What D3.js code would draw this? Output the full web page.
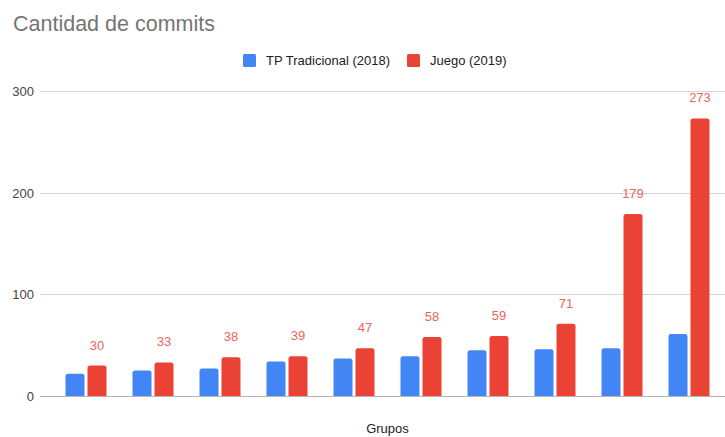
<!DOCTYPE html>
<html>
<head>
<meta charset="utf-8">
<script src="https://cdn.jsdelivr.net/npm/d3@7/dist/d3.min.js"></script>
<style>
  html, body { margin: 0; padding: 0; background: #fff; }
  svg { display: block; font-family: "Liberation Sans", Arial, sans-serif; }
</style>
</head>
<body>
<svg id="chart" width="725" height="437"></svg>
<script>
const title = "Cantidad de commits";
const xTitle = "Grupos";
const categories = ["G1", "G2", "G3", "G4", "G5", "G6", "G7", "G8", "G9", "G10"];
const seriesNames = ["TP Tradicional (2018)", "Juego (2019)"];
const seriesColors = ["#4285F4", "#EA4335"];
const tradicional = [22, 25, 27, 34, 37, 39, 45, 46, 47, 61];
const juego = [30, 33, 38, 39, 47, 58, 59, 71, 179, 273];
const yTicks = [0, 100, 200, 300];

const svg = d3.select("#chart");
const W = 725, H = 437;

const y = d3.scaleLinear().domain([0, 300]).range([396, 91]);
const x0 = d3.scaleBand().domain(categories).range([52.5, 722.5]).padding(0);
const groupW = 41;
const x1 = d3.scaleBand().domain(seriesNames).range([0, groupW]).paddingInner(3 / 22).paddingOuter(0);

// Title
svg.append("text").attr("x", 13).attr("y", 31)
  .attr("font-size", "21.5px").attr("fill", "#757575").text(title);

// Legend
const legend = [
  { name: seriesNames[0], color: seriesColors[0], x: 243, tx: 266 },
  { name: seriesNames[1], color: seriesColors[1], x: 407, tx: 430 }
];
legend.forEach(l => {
  svg.append("rect").attr("x", l.x).attr("y", 54).attr("width", 13).attr("height", 13)
    .attr("rx", 1.5).attr("fill", l.color);
  svg.append("text").attr("x", l.tx).attr("y", 65).attr("font-size", "13px")
    .attr("fill", "#222").text(l.name);
});

// Gridlines + y labels
const yAxis = d3.axisLeft(y).tickValues(yTicks).tickSize(0).tickPadding(0);
const gy = svg.append("g");
yTicks.forEach(t => {
  gy.append("line").attr("x1", 40).attr("x2", W)
    .attr("y1", Math.round(y(t)) + 0.5).attr("y2", Math.round(y(t)) + 0.5)
    .attr("stroke", t === 0 ? "#b5b5b5" : "#d6d6d6").attr("stroke-width", 1);
});
const axisG = svg.append("g").attr("transform", "translate(34,0)").call(yAxis);
axisG.select(".domain").remove();
axisG.selectAll("text").attr("font-size", "13px").attr("fill", "#444")
  .attr("font-family", "'Liberation Sans', Arial, sans-serif").attr("dy", "0.35em");

// Bars
function barPath(x, yTop, w, yBase, r) {
  const h = yBase - yTop;
  r = Math.min(r, h / 2, w / 2);
  return `M${x},${yBase}V${yTop + r}Q${x},${yTop} ${x + r},${yTop}H${x + w - r}Q${x + w},${yTop} ${x + w},${yTop + r}V${yBase}Z`;
}
const data = categories.map((c, i) => ({ cat: c, vals: [tradicional[i], juego[i]] }));
const groups = svg.append("g").selectAll("g").data(data).join("g")
  .attr("transform", d => `translate(${x0(d.cat) + (x0.bandwidth() - groupW) / 2},0)`);
groups.selectAll("path").data(d => d.vals.map((v, j) => ({ v, j })))
  .join("path")
  .attr("d", d => barPath(x1(seriesNames[d.j]), y(d.v), x1.bandwidth(), y(0), 2.5))
  .attr("fill", d => seriesColors[d.j]);

// Value labels for Juego
groups.append("text")
  .attr("x", d => x1(seriesNames[1]) + x1.bandwidth() / 2)
  .attr("y", d => y(d.vals[1]) - 16)
  .attr("text-anchor", "middle").attr("font-size", "13px")
  .attr("fill", "#e8675c").text(d => d.vals[1]);

// X title
svg.append("text").attr("x", (x0.range()[0] + x0.range()[1]) / 2).attr("y", 433)
  .attr("text-anchor", "middle").attr("font-size", "13px").attr("fill", "#222").text(xTitle);
</script>
</body>
</html>
